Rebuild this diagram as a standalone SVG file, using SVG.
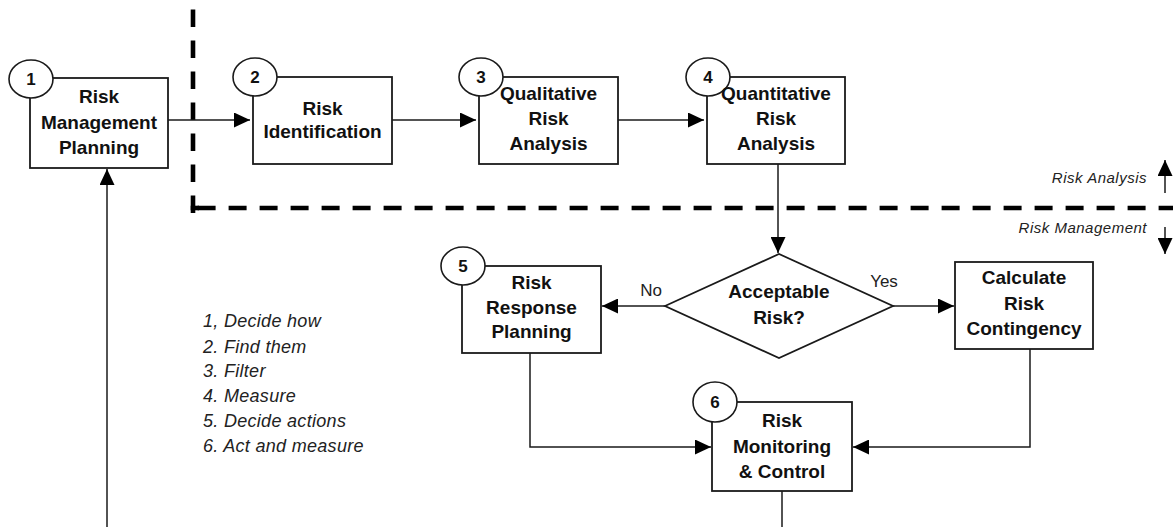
<svg xmlns="http://www.w3.org/2000/svg" width="1173" height="527" viewBox="0 0 1173 527">
<style>
  .box { fill: #fff; stroke: #1a1a1a; stroke-width: 1.8; }
  .num { fill: #fff; stroke: #1a1a1a; stroke-width: 1.6; }
  .lbl { font-family: "Liberation Sans", Arial, sans-serif; font-weight: bold; font-size: 19px; fill: #111; text-anchor: middle; }
  .n { font-family: "Liberation Sans", Arial, sans-serif; font-weight: bold; font-size: 17px; fill: #111; text-anchor: middle; }
  .conn { fill: none; stroke: #1a1a1a; stroke-width: 1.5; }
  .dash { fill: none; stroke: #000; stroke-width: 4.6; stroke-dasharray: 18 13; }
  .yn { font-family: "Liberation Sans", Arial, sans-serif; font-size: 17px; fill: #222; text-anchor: middle; }
  .zone { font-family: "Liberation Sans", Arial, sans-serif; font-style: italic; font-size: 15px; letter-spacing: 0.5px; fill: #222; text-anchor: end; }
  .leg { font-family: "Liberation Sans", Arial, sans-serif; font-style: italic; font-size: 18px; letter-spacing: 0.3px; fill: #222; }
</style>
<defs>
  <marker id="ah" viewBox="0 0 16 15" refX="16" refY="7.5" markerWidth="16" markerHeight="15" markerUnits="userSpaceOnUse" orient="auto">
    <path d="M0,0 L16,7.5 L0,15 z" fill="#000"/>
  </marker>
</defs>

<g id="boundary">
  <path class="dash" d="M193,9.5 V213" style="stroke-dasharray: 17.5 13.5"/>
  <path class="dash" d="M190.7,208 H199"/>
  <path class="dash" d="M197.6,208 H1173"/>
</g>

<g id="connectors">
  <path class="conn" d="M168,120 H250" marker-end="url(#ah)"/>
  <path class="conn" d="M392,120 H476" marker-end="url(#ah)"/>
  <path class="conn" d="M618,120 H704" marker-end="url(#ah)"/>
  <path class="conn" d="M778,164 V253" marker-end="url(#ah)"/>
  <path class="conn" d="M665,306 H602" marker-end="url(#ah)"/>
  <path class="conn" d="M893,306 H954" marker-end="url(#ah)"/>
  <path class="conn" d="M530,353 V447 H711" marker-end="url(#ah)"/>
  <path class="conn" d="M1030,349 V447 H853" marker-end="url(#ah)"/>
  <path class="conn" d="M782,491 V527"/>
  <path class="conn" d="M107,527 V169" marker-end="url(#ah)"/>
  <path class="conn" d="M1165,193 V160" marker-end="url(#ah)"/>
  <path class="conn" d="M1165,227 V254" marker-end="url(#ah)"/>
  <text class="yn" x="651" y="296">No</text>
  <text class="yn" x="884" y="287">Yes</text>
</g>

<g id="zones">
  <text class="zone" x="1147" y="183">Risk Analysis</text>
  <text class="zone" x="1147" y="233">Risk Management</text>
</g>

<g id="node1">
  <rect class="box" x="30" y="78" width="138" height="90"/>
  <ellipse class="num" cx="31" cy="79" rx="22" ry="19"/>
  <text class="n" x="31" y="85">1</text>
  <text class="lbl" x="99" y="103">Risk</text>
  <text class="lbl" x="99" y="129">Management</text>
  <text class="lbl" x="99" y="154">Planning</text>
</g>

<g id="node2">
  <rect class="box" x="253" y="77" width="139" height="87"/>
  <ellipse class="num" cx="255" cy="77" rx="22" ry="19"/>
  <text class="n" x="255" y="83">2</text>
  <text class="lbl" x="322.5" y="115">Risk</text>
  <text class="lbl" x="322.5" y="138">Identification</text>
</g>

<g id="node3">
  <rect class="box" x="479" y="77" width="139" height="87"/>
  <ellipse class="num" cx="481" cy="77" rx="22" ry="19"/>
  <text class="n" x="481" y="83">3</text>
  <text class="lbl" x="548.5" y="100">Qualitative</text>
  <text class="lbl" x="548.5" y="125">Risk</text>
  <text class="lbl" x="548.5" y="150">Analysis</text>
</g>

<g id="node4">
  <rect class="box" x="707" y="77" width="138" height="87"/>
  <ellipse class="num" cx="708" cy="77" rx="22" ry="19"/>
  <text class="n" x="708" y="83">4</text>
  <text class="lbl" x="776" y="100">Quantitative</text>
  <text class="lbl" x="776" y="125">Risk</text>
  <text class="lbl" x="776" y="150">Analysis</text>
</g>

<g id="decision">
  <polygon class="box" points="665,306 779,254 893,306 779,358"/>
  <text class="lbl" x="779" y="298">Acceptable</text>
  <text class="lbl" x="779" y="324">Risk?</text>
</g>

<g id="node5">
  <rect class="box" x="462" y="266" width="139" height="87"/>
  <ellipse class="num" cx="463" cy="266" rx="22" ry="19"/>
  <text class="n" x="463" y="272">5</text>
  <text class="lbl" x="531.5" y="289">Risk</text>
  <text class="lbl" x="531.5" y="314">Response</text>
  <text class="lbl" x="531.5" y="338">Planning</text>
</g>

<g id="contingency">
  <rect class="box" x="955" y="262" width="138" height="87"/>
  <text class="lbl" x="1024" y="284">Calculate</text>
  <text class="lbl" x="1024" y="310">Risk</text>
  <text class="lbl" x="1024" y="335">Contingency</text>
</g>

<g id="node6">
  <rect class="box" x="712" y="402" width="140" height="89"/>
  <ellipse class="num" cx="715" cy="402" rx="22" ry="20"/>
  <text class="n" x="715" y="408">6</text>
  <text class="lbl" x="782" y="427">Risk</text>
  <text class="lbl" x="782" y="453">Monitoring</text>
  <text class="lbl" x="782" y="478">&amp; Control</text>
</g>

<g id="legend">
  <text class="leg" x="203" y="327">1, Decide how</text>
  <text class="leg" x="203" y="353">2. Find them</text>
  <text class="leg" x="203" y="377">3. Filter</text>
  <text class="leg" x="203" y="402">4. Measure</text>
  <text class="leg" x="203" y="427">5. Decide actions</text>
  <text class="leg" x="203" y="452">6. Act and measure</text>
</g>
</svg>
